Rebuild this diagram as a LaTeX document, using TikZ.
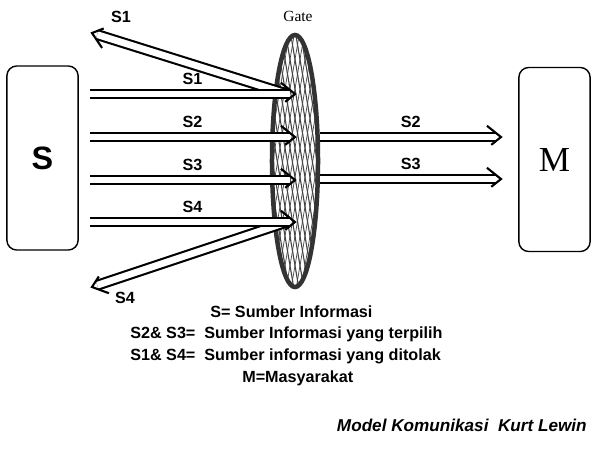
\documentclass[tikz,border=0pt]{standalone}
\usepackage{fontspec}
\setmainfont{Liberation Sans}
\newfontfamily\timesfont{Liberation Serif}
\usetikzlibrary{arrows.meta,positioning,shapes.geometric,calc,decorations.markings}

\tikzset{
  box/.style={draw, line width=1pt, rounded corners=7pt, minimum width=1.78cm, minimum height=4.6cm},
  flow/.style={draw=white, line width=4.8pt, shorten >=3.9pt,
    preaction={draw=black, line width=7.8pt},
    postaction={decorate},
    decoration={markings, mark=at position 1 with {
      \draw[black, line width=1.5pt, miter limit=10] (-10pt,8pt) -- (0,0) -- (-10pt,-8pt);}}},
  lbl/.style={font=\bfseries\fontsize{11.5}{13}\selectfont, inner sep=1pt},
  legend/.style={font=\bfseries\fontsize{11.5}{13}\selectfont, anchor=west, inner sep=0pt},
}

\begin{document}
\begin{tikzpicture}[x=0.025cm, y=-0.025cm]
\useasboundingbox (0,0) rectangle (600,450);

% Source and society
\node[box, font=\bfseries\fontsize{23}{26}\selectfont] (src) at (42.5,158) {S};
\node[box, font=\timesfont\fontsize{25}{28}\selectfont] (mas) at (554.5,159.5) {M};

% Gate (hatched filter)
\node[ellipse, minimum width=1.15cm, minimum height=6.3cm, inner sep=0pt] (gate) at (295,161) {};
\begin{scope}
  \clip (gate.center) ellipse [x radius=0.575cm, y radius=3.15cm];
  \fill[white] (240,20) rectangle (340,300);
  \foreach \i in {0,...,24}
    \draw[gray!55!black, line width=0.8pt] (215+\i*5,30) -- ++(45,265);
  \foreach \i in {0,...,24}
    \draw[gray!55!black, line width=0.5pt] (215+\i*5,295) -- ++(45,-265);
\end{scope}
\draw[gray!40!black, line width=3.2pt] (gate.center) ellipse [x radius=0.575cm, y radius=3.15cm];
\node[font=\timesfont\fontsize{11}{13}\selectfont] (gatelbl) at (298,16) {Gate};

% Start points of the flows
\coordinate (a1) at (90,94);
\coordinate (a2) at (90,137);
\coordinate (a3) at (90,180);
\coordinate (a4) at (90,222);
\coordinate (r1) at (92,33);
\coordinate (r4) at (92,287);
\coordinate (e2) at (501,137);
\coordinate (e3) at (501,179);

% Rejected flows
\draw[flow] ($(a1 -| gate.center)+(-8,0)$) -- (r1);
\draw[flow] ($(a4 -| gate.center)+(-8,0)$) -- (r4);
\node[lbl] (l1r) at (121,17) {S1};
\node[lbl] (l4r) at (125,298) {S4};

% Incoming flows
\draw[flow] (a1) -- (a1 -| gate.center) node[lbl, midway, above=3pt] {S1};
\draw[flow] (a2) -- (a2 -| gate.center) node[lbl, midway, above=3pt] {S2};
\draw[flow] (a3) -- (a3 -| gate.center) node[lbl, midway, above=3pt] {S3};
\draw[flow] (a4) -- (a4 -| gate.center) node[lbl, midway, above=3pt] {S4};

% Selected flows
\draw[flow] ($(e2 -| gate.east)+(2,0)$) -- (e2) node[lbl, midway, above=3pt] {S2};
\draw[flow] ($(e3 -| gate.east)+(2,0)$) -- (e3) node[lbl, midway, above=3pt] {S3};

% Legend
\node[legend] (k1) at (210,312) {S= Sumber Informasi};
\node[legend] (k2) at (130,334) {S2\& S3=\ \ Sumber Informasi yang terpilih};
\node[legend] (k3) at (130,356) {S1\& S4=\ \ Sumber informasi yang ditolak};
\node[legend] (k4) at (242,378) {M=Masyarakat};
\node[font=\bfseries\itshape\fontsize{12.2}{14}\selectfont, anchor=east, inner sep=0pt] (title) at (587,425) {Model Komunikasi\ \ Kurt Lewin};
\end{tikzpicture}
\end{document}
